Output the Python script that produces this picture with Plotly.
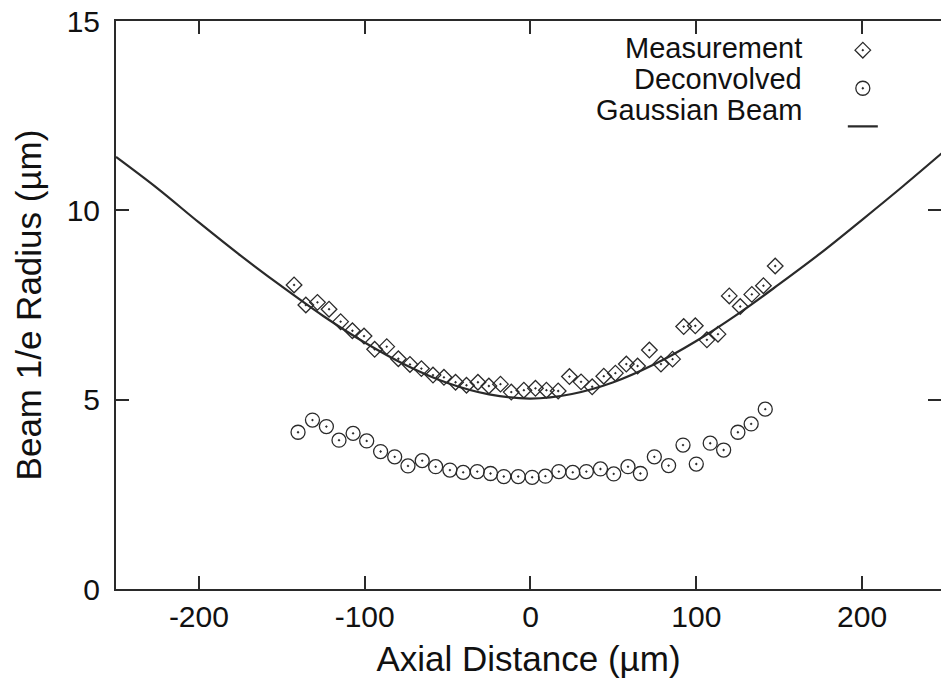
import plotly.graph_objects as go

# Measurement (diamonds)
meas_x = [-142.6, -135.5, -128.5, -121.5, -114.5, -107.4, -100.4, -94.0, -86.7, -79.7,
          -72.7, -65.8, -58.8, -52.2, -45.2, -38.6, -31.7, -25.1, -18.1, -11.6,
          -4.0, 3.0, 9.6, 16.7, 23.5, 30.5, 37.2, 44.2, 51.2, 57.8,
          64.6, 71.7, 78.7, 85.7, 92.4, 99.4, 106.4, 113.1, 119.9, 126.5,
          133.5, 140.5, 147.6]
meas_y = [8.03, 7.50, 7.57, 7.39, 7.06, 6.82, 6.68, 6.33, 6.40, 6.08,
          5.93, 5.82, 5.65, 5.59, 5.46, 5.38, 5.46, 5.36, 5.41, 5.20,
          5.25, 5.30, 5.25, 5.23, 5.61, 5.47, 5.34, 5.62, 5.70, 5.94,
          5.89, 6.31, 5.94, 6.07, 6.93, 6.95, 6.58, 6.73, 7.74, 7.46,
          7.78, 8.01, 8.53]

# Deconvolved (circles)
deconv_x = [-140.2, -131.5, -123.1, -115.5, -107.0, -98.8, -90.4, -81.9, -73.9, -65.3,
            -57.2, -48.6, -40.6, -32.1, -24.1, -16.1, -7.4, 1.0, 9.0, 17.1,
            25.5, 33.7, 42.2, 50.2, 58.8, 66.3, 74.7, 83.3, 92.0, 100.0,
            108.4, 116.5, 125.1, 133.1, 141.6]
deconv_y = [4.14, 4.46, 4.29, 3.93, 4.11, 3.91, 3.63, 3.49, 3.25, 3.39,
            3.23, 3.14, 3.08, 3.10, 3.05, 2.97, 2.97, 2.95, 2.98, 3.10,
            3.08, 3.10, 3.17, 3.04, 3.23, 3.05, 3.49, 3.26, 3.80, 3.30,
            3.85, 3.67, 4.14, 4.36, 4.75]

# Gaussian beam curve
beam_x = [-250, -225, -200, -175, -150, -125, -100, -75, -50, -25, 0,
          25, 50, 75, 100, 125, 150, 175, 200, 225, 250]
beam_y = [11.41, 10.58, 9.68, 8.81, 7.99, 7.21, 6.51, 5.91, 5.44, 5.14, 5.03,
          5.15, 5.46, 5.94, 6.55, 7.26, 8.05, 8.87, 9.75, 10.65, 11.58]

x_ticks = [-200, -100, 0, 100, 200]
x_tick_text = ["-200", "-100", "0", "100", "200"]
y_ticks = [0, 5, 10, 15]
legend_names = ["Measurement", "Deconvolved", "Gaussian Beam"]

INK = "#2a2a2a"
FONT = "Liberation Sans, Arial, sans-serif"

fig = go.Figure()
fig.add_trace(go.Scatter(x=meas_x, y=meas_y, mode="markers", name=" ",
                         marker=dict(symbol="diamond-open-dot", size=12,
                                     color=INK, line=dict(width=1.3, color=INK))))
fig.add_trace(go.Scatter(x=deconv_x, y=deconv_y, mode="markers", name=" ",
                         marker=dict(symbol="circle-open-dot", size=14,
                                     color=INK, line=dict(width=1.3, color=INK))))
fig.add_trace(go.Scatter(x=beam_x, y=beam_y, mode="lines", name=" ",
                         line=dict(color=INK, width=2.2, shape="spline")))

for i, name in enumerate(legend_names):
    fig.add_annotation(text=name, xref="paper", yref="paper",
                       x=0.8335, y=0.952 - i * 0.0546, xanchor="right", yanchor="middle",
                       showarrow=False, font=dict(size=29, color="#111", family=FONT))

fig.update_layout(
    width=941, height=689,
    margin=dict(l=116, r=0, t=21, b=100),
    paper_bgcolor="white", plot_bgcolor="white",
    font=dict(family=FONT, size=29, color="#111"),
    showlegend=True,
    legend=dict(x=0.881, y=0.991, xanchor="left", yanchor="top",
                bgcolor="rgba(0,0,0,0)", font=dict(size=27),
                tracegroupgap=0, itemwidth=30),
    xaxis=dict(range=[-250, 247.6], tickvals=x_ticks, ticktext=x_tick_text,
               ticks="inside", ticklen=13, automargin=False,
               tickwidth=1.5, tickcolor=INK, showline=True, linecolor=INK, linewidth=2,
               mirror="ticks", showgrid=False, zeroline=False,
               title=dict(text="Axial Distance (µm)", standoff=14),
               tickfont=dict(size=30)),
    yaxis=dict(range=[0, 15], tickvals=y_ticks, ticks="inside", ticklen=13,
               automargin=False, ticklabelstandoff=8,
               tickwidth=1.5, tickcolor=INK, showline=True, linecolor=INK, linewidth=2,
               mirror="ticks", showgrid=False, zeroline=False,
               title=dict(text="Beam 1/e Radius (µm)", standoff=14),
               tickfont=dict(size=30)),
)

fig.write_html("out.html", config={"displayModeBar": False},
               post_script="document.body.style.margin='0';document.body.style.overflow='hidden';")
